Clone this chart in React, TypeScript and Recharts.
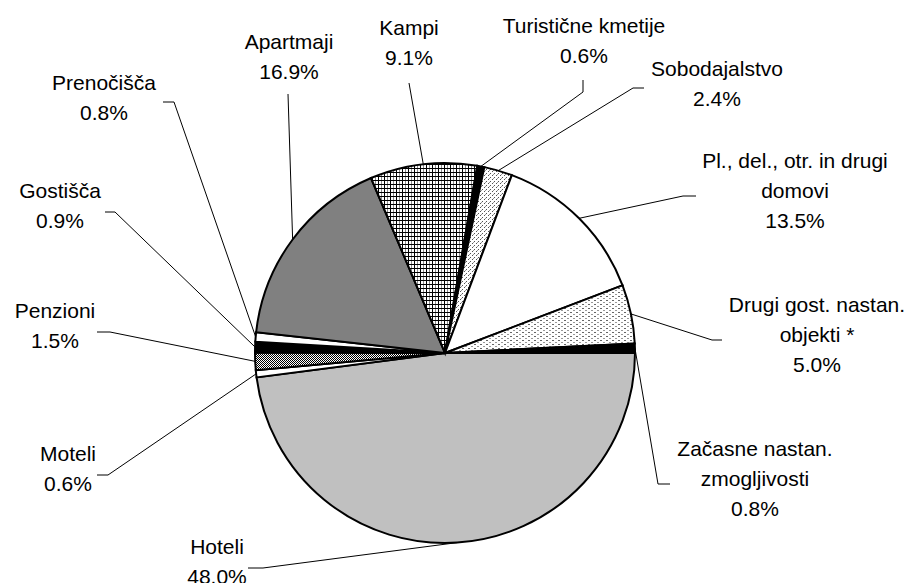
import { Cell, Pie, PieChart } from "recharts";

const categories = [
  "Hoteli",
  "Moteli",
  "Penzioni",
  "Gostišča",
  "Prenočišča",
  "Apartmaji",
  "Kampi",
  "Turistične kmetije",
  "Sobodajalstvo",
  "Pl., del., otr. in drugi domovi",
  "Drugi gost. nastan. objekti *",
  "Začasne nastan. zmogljivosti",
];

const shares = [48.0, 0.6, 1.5, 0.9, 0.8, 16.9, 9.1, 0.6, 2.4, 13.5, 5.0, 0.8];

// how each category name wraps in its label
const wrappedNames = [
  ["Hoteli"],
  ["Moteli"],
  ["Penzioni"],
  ["Gostišča"],
  ["Prenočišča"],
  ["Apartmaji"],
  ["Kampi"],
  ["Turistične kmetije"],
  ["Sobodajalstvo"],
  ["Pl., del., otr. in drugi", "domovi"],
  ["Drugi gost. nastan.", "objekti *"],
  ["Začasne nastan.", "zmogljivosti"],
];

const fills = [
  "#c0c0c0",
  "#ffffff",
  "url(#checker)",
  "#000000",
  "#ffffff",
  "#808080",
  "url(#grid)",
  "#000000",
  "url(#diag)",
  "#ffffff",
  "url(#dots)",
  "#000000",
];

// label block centre and leader-line bends, relative to the pie centre
const labelLayout: { at: [number, number]; leader: [number, number][] }[] = [
  { at: [-228, 213], leader: [[-182, 215], [-197, 215]] },
  { at: [-377, 120], leader: [[-337, 122], [-348, 122]] },
  { at: [-390, -23], leader: [[-335, -21], [-348, -21]] },
  { at: [-385, -143], leader: [[-330, -141], [-340, -141]] },
  { at: [-341, -251], leader: [[-271, -251], [-282, -251]] },
  { at: [-156, -292], leader: [[-157, -259]] },
  { at: [-36, -306], leader: [[-36, -270]] },
  { at: [139, -308], leader: [[138, -261], [138, -273]] },
  { at: [272, -265], leader: [[188, -265], [199, -265]] },
  { at: [350, -158], leader: [[238, -157], [251, -157]] },
  { at: [372, -14], leader: [[267, -13], [277, -13]] },
  { at: [310, 130], leader: [[213, 131], [225, 131]] },
];

const data = categories.map((name, i) => ({ name, value: shares[i] }));

const RADIAN = Math.PI / 180;
const LINE_HEIGHT = 30;

const PieLabel = (props: any) => {
  const { cx, cy, midAngle, outerRadius, index } = props;
  const layout = labelLayout[index];
  const sx = cx + Math.cos(-midAngle * RADIAN) * outerRadius;
  const sy = cy + Math.sin(-midAngle * RADIAN) * outerRadius;
  const points = [[sx, sy], ...layout.leader.map(([x, y]) => [cx + x, cy + y])];
  const lines = [...wrappedNames[index], `${shares[index].toFixed(1)}%`];
  const tx = cx + layout.at[0];
  const ty = cy + layout.at[1] - 5 - ((lines.length - 1) * LINE_HEIGHT) / 2;

  return (
    <g>
      <polyline
        points={points.map((p) => p.join(",")).join(" ")}
        fill="none"
        stroke="#000"
        strokeWidth={1}
      />
      <text
        x={tx}
        y={ty}
        fill="#000"
        fontFamily="'Liberation Sans', Arial, sans-serif"
        fontSize={21}
        textAnchor="middle"
        dominantBaseline="central"
      >
        {lines.map((line, i) => (
          <tspan key={i} x={tx} dy={i === 0 ? 0 : LINE_HEIGHT}>
            {line}
          </tspan>
        ))}
      </text>
    </g>
  );
};

export default function App() {
  return (
    <div style={{ position: "absolute", left: 0, top: 0, width: 905, height: 583, background: "#fff" }}>
      <svg width={0} height={0} style={{ position: "absolute" }}>
        <defs>
          <pattern id="checker" width={2} height={2} patternUnits="userSpaceOnUse">
            <rect width={2} height={2} fill="#fff" />
            <rect width={1} height={1} fill="#000" />
            <rect x={1} y={1} width={1} height={1} fill="#000" />
          </pattern>
          <pattern id="grid" width={6} height={4} patternUnits="userSpaceOnUse">
            <rect width={6} height={4} fill="#fff" />
            <rect x={0} width={1} height={4} fill="#000" />
            <rect x={3} width={1} height={4} fill="#888" />
            <rect y={0} width={6} height={1} fill="#000" />
          </pattern>
          <pattern id="diag" width={4} height={4} patternUnits="userSpaceOnUse">
            <rect width={4} height={4} fill="#fff" />
            <rect x={0} y={3} width={1} height={1} fill="#555" />
            <rect x={1} y={2} width={1} height={1} fill="#999" />
            <rect x={2} y={1} width={1} height={1} fill="#555" />
          </pattern>
          <pattern id="dots" width={6} height={4} patternUnits="userSpaceOnUse">
            <rect width={6} height={4} fill="#fff" />
            <rect x={0} y={0} width={2} height={1} fill="#666" />
            <rect x={3} y={2} width={2} height={1} fill="#999" />
          </pattern>
        </defs>
      </svg>
      <PieChart width={905} height={583}>
        <Pie
          data={data}
          dataKey="value"
          nameKey="name"
          cx={440}
          cy={348}
          outerRadius={190}
          startAngle={0}
          endAngle={-360}
          stroke="#000"
          strokeWidth={2}
          label={PieLabel}
          labelLine={false}
          isAnimationActive={false}
        >
          {data.map((d, i) => (
            <Cell key={d.name} fill={fills[i]} />
          ))}
        </Pie>
      </PieChart>
    </div>
  );
}
